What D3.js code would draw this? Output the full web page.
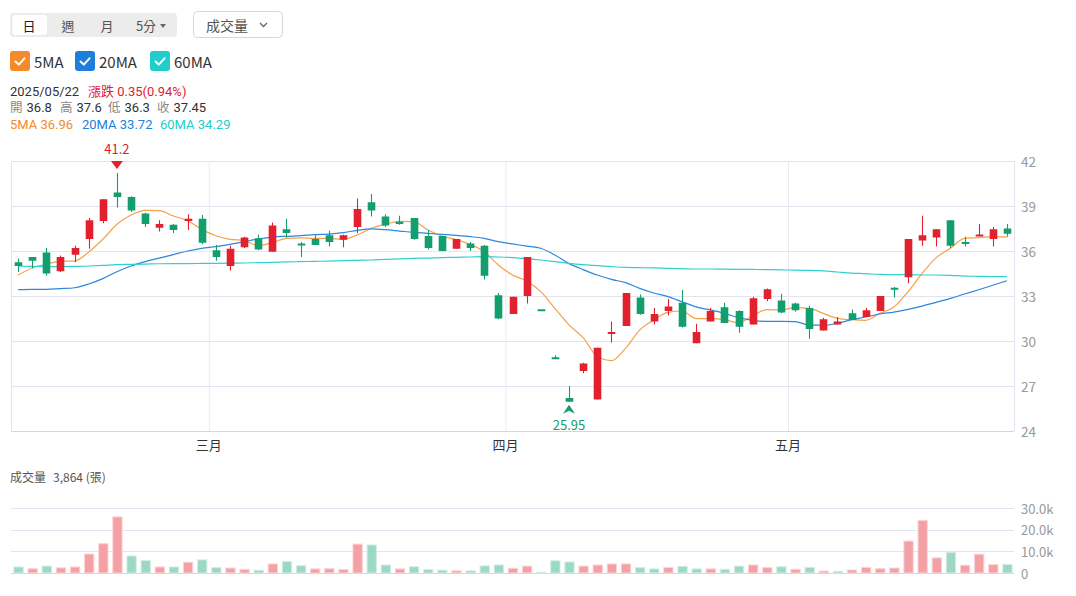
<!DOCTYPE html>
<html>
<head>
<meta charset="utf-8">
<script src="https://cdn.jsdelivr.net/npm/d3@7"></script>
<style>
  body { margin: 0; background: #fff; }
  svg { display: block; font-family: "Noto Sans CJK TC", "Noto Sans", sans-serif; }
  .info { font-family: Roboto, "Noto Sans CJK TC", sans-serif; }
</style>
</head>
<body>
<div id="chart"></div>
<script>
(function() {
  'use strict';

  // trading days shown
  const dates = [
    '02/10','02/11','02/12','02/13','02/14','02/17','02/18','02/19','02/20','02/21','02/24','02/25','02/26','02/27',
    '03/03','03/04','03/05','03/06','03/07','03/10','03/11','03/12','03/13','03/14','03/17','03/18','03/19','03/20','03/21',
    '03/24','03/25','03/26','03/27','03/28','03/31',
    '04/01','04/02','04/07','04/08','04/09','04/10','04/11','04/14','04/15','04/16','04/17','04/18','04/21','04/22','04/23',
    '04/24','04/25','04/28','04/29','04/30',
    '05/02','05/05','05/06','05/07','05/08','05/09','05/12','05/13','05/14','05/15','05/16','05/19','05/20','05/21','05/22','05/23'
  ];

  const openP  = [35.25,35.6,35.9,34.65,35.75,36.8,38.0,39.9,39.6,38.5,37.55,37.75,38.0,38.15,36.05,35.0,36.25,36.85,35.95,37.45,
                  36.5,36.8,37.05,36.75,37.6,39.25,38.3,37.95,38.2,37.0,37.0,36.15,36.5,36.35,33.05,31.8,33.0,32.05,28.85,26.2,
                  28.0,26.1,30.5,31.0,32.9,31.3,32.0,32.55,29.85,31.3,32.25,32.0,31.1,32.8,32.7,32.5,32.2,30.7,31.1,31.85,
                  31.6,32.0,33.55,34.25,36.7,36.9,38.05,36.6,37.0,36.8,37.5];
  const highP  = [35.5,35.6,36.2,35.7,36.35,38.2,39.45,41.2,39.65,38.55,38.05,37.8,38.45,38.4,36.4,36.35,36.95,37.1,37.9,38.15,
                  36.6,37.05,37.35,37.1,39.5,39.8,38.45,38.35,38.2,37.4,37.0,36.8,36.6,36.4,33.2,32.95,35.6,32.05,29.05,27.0,
                  28.55,29.55,31.3,33.2,33.1,32.2,32.8,33.4,31.15,32.2,32.55,32.05,32.95,33.5,33.15,32.55,32.35,31.55,31.6,32.1,
                  32.2,33.0,33.6,36.8,38.35,37.45,38.05,36.95,37.8,37.6,37.8];
  const lowP   = [34.6,34.85,34.35,34.6,35.25,36.15,37.85,38.9,38.6,37.6,37.3,37.2,37.4,36.45,35.35,34.7,36.2,36.05,35.95,36.9,
                  35.6,36.4,36.3,36.25,37.2,38.3,37.6,37.75,36.75,36.1,36.0,36.15,36.0,34.1,31.45,31.8,32.5,32.05,28.85,25.95,
                  27.85,26.1,29.9,31.0,31.75,31.1,31.7,30.9,29.85,31.3,31.2,30.55,31.1,32.65,31.85,31.95,30.15,30.7,31.1,31.4,
                  31.6,32.0,32.9,33.85,36.35,36.3,36.2,36.3,37.0,36.3,36.95];
  const closeP = [35.0,35.35,34.5,35.6,36.2,38.05,39.45,39.6,38.7,37.8,37.8,37.4,38.15,36.55,35.6,36.15,36.9,36.1,37.7,37.2,
                  36.45,36.4,36.6,37.05,38.8,38.7,37.7,37.8,36.8,36.2,36.0,36.8,36.2,34.35,31.5,32.95,35.6,32.05,28.85,25.95,
                  28.5,29.55,30.6,33.2,31.8,31.8,32.3,30.95,30.6,32.0,31.2,30.95,32.85,33.45,31.9,32.05,30.8,31.45,31.3,31.4,
                  32.05,33.0,33.45,36.8,37.05,37.45,36.35,36.5,37.1,37.45,37.15];

  const ma5  = [34.4,34.87,35.13,35.31,35.33,35.93,36.78,37.78,38.4,38.71,38.69,38.33,38.02,37.44,37.02,36.78,36.71,36.35,36.56,36.84,
                36.87,36.84,36.84,36.78,37.07,37.51,37.78,37.98,37.96,37.4,37.0,36.76,36.44,35.96,35.07,34.4,34.0,33.29,32.18,31.07,
                30.22,28.96,28.69,29.51,30.73,31.4,31.91,32.0,31.49,31.49,31.42,31.22,31.69,32.09,32.07,32.22,32.18,31.84,31.51,31.42,
                31.38,31.84,32.27,33.29,34.51,35.56,36.18,36.84,36.89,36.96,36.93];
  const ma20 = [33.42,33.44,33.44,33.49,33.55,33.8,34.16,34.62,35.0,35.29,35.53,35.76,36.0,36.18,36.29,36.44,36.62,36.8,36.93,36.98,
                37.02,37.09,37.13,37.22,37.38,37.47,37.42,37.33,37.24,37.18,37.11,37.04,36.96,36.84,36.62,36.47,36.33,36.18,35.73,35.16,
                34.76,34.4,34.11,33.89,33.51,33.2,32.96,32.62,32.27,32.07,31.84,31.56,31.38,31.31,31.31,31.29,31.07,31.04,31.18,31.42,
                31.6,31.8,31.93,32.11,32.33,32.58,32.84,33.13,33.42,33.72,34.02];
  const ma60 = [35.0,34.97,34.96,34.96,34.97,35.0,35.04,35.09,35.11,35.13,35.15,35.16,35.16,35.17,35.18,35.19,35.2,35.22,35.24,35.27,
                35.29,35.31,35.33,35.36,35.38,35.4,35.44,35.47,35.51,35.53,35.56,35.58,35.6,35.62,35.6,35.56,35.49,35.4,35.29,35.18,
                35.09,35.02,34.96,34.91,34.89,34.87,34.84,34.82,34.8,34.8,34.79,34.78,34.77,34.76,34.74,34.73,34.71,34.67,34.6,34.53,
                34.49,34.44,34.42,34.42,34.4,34.4,34.38,34.33,34.31,34.29,34.29];

  // volume in 張, and its colour: 1 up (red), -1 down (green)
  const volume = [2800,2000,3200,2400,2800,8800,13600,26000,7900,5800,2800,2800,5000,6100,2500,2300,1700,1300,4200,5300,
                  3400,1900,2000,1600,13400,13000,3700,1900,2900,1600,1300,1000,1000,3300,3700,2200,3200,400,5700,5100,
                  3200,3700,4200,4200,2500,1900,2600,3100,1900,1900,1700,3200,3700,2500,2900,1700,2600,900,800,1400,
                  2600,2000,2300,14800,24400,7000,9600,3600,8700,3864,4000];
  const volDir = [-1,1,-1,1,1,1,1,1,-1,-1,1,-1,1,-1,-1,1,1,-1,1,-1,
                  -1,1,1,1,1,-1,-1,1,-1,-1,-1,1,-1,-1,-1,1,1,-1,-1,-1,
                  1,1,1,1,-1,-1,1,-1,-1,1,-1,-1,1,1,-1,1,-1,1,-1,1,
                  1,1,1,1,1,1,-1,1,1,1,-1];

  const priceTicks  = [24, 27, 30, 33, 36, 39, 42];
  const volTicks    = [0, 10000, 20000, 30000];
  const monthStarts = ['03/03', '04/01', '05/02'];
  const monthLabels = ['三月', '四月', '五月'];
  const periodTabs  = ['日', '週', '月', '5分'];
  const maNames     = ['5MA', '20MA', '60MA'];
  const maValues    = [ma5, ma20, ma60];

  const RED = '#e3202d', GREEN = '#129f6d',
        VRED = '#f4a1a6', VGREEN = '#9dd8c4',
        maColors  = ['#f5a04a', '#2d87dc', '#2fd0cf'],
        boxColors = ['#f38b2c', '#1c7fdb', '#20cdcb'],
        GRID = '#e2e5f0';

  const width = 1076, height = 596;

  const svg = d3.select('#chart').append('svg')
    .attr('width', width)
    .attr('height', height);

  const data = dates.map((d, i) => ({
    date: d, o: openP[i], h: highP[i], l: lowP[i], c: closeP[i],
    v: volume[i], vd: volDir[i], prev: i > 0 ? closeP[i - 1] : openP[i]
  }));

  const x = d3.scaleBand().domain(dates).range([11, 1014]);
  const cx = d => x(d) + x.bandwidth() / 2;
  const y = d3.scaleLinear().domain([24, 42]).range([431, 161]);
  const yv = d3.scaleLinear().domain([0, 30000]).range([573, 508.3]);

  // ---------- header controls ----------
  const head = svg.append('g');
  head.append('rect').attr('x', 10).attr('y', 13).attr('width', 167).attr('height', 24)
    .attr('rx', 4).attr('fill', '#ececec');
  head.append('rect').attr('x', 12.5).attr('y', 15).attr('width', 34.5).attr('height', 20)
    .attr('rx', 3).attr('fill', '#fff');
  const tabX = [29, 68, 107, 146];
  head.selectAll('text.tab').data(periodTabs).enter().append('text')
    .attr('class', 'tab')
    .attr('x', (d, i) => tabX[i]).attr('y', 25.5)
    .attr('text-anchor', 'middle').attr('dominant-baseline', 'central')
    .attr('font-size', 13).attr('fill', (d, i) => i === 0 ? '#222' : '#555')
    .text(d => d);
  head.append('path').attr('d', 'M160,24 L166,24 L163,28 Z').attr('fill', '#666');

  head.append('rect').attr('x', 193.5).attr('y', 11.5).attr('width', 89).attr('height', 26)
    .attr('rx', 4).attr('fill', '#fff').attr('stroke', '#d6d6d6');
  head.append('text').attr('x', 206).attr('y', 25).attr('dominant-baseline', 'central')
    .attr('font-size', 14).attr('fill', '#555').text('成交量');
  head.append('path').attr('d', 'M260,23 L263.5,26.5 L267,23').attr('fill', 'none')
    .attr('stroke', '#666').attr('stroke-width', 1.3);

  // legend checkboxes
  const legX = [10, 75, 150];
  const leg = svg.append('g').selectAll('g').data(maNames).enter().append('g')
    .attr('transform', (d, i) => `translate(${legX[i]},51)`);
  leg.append('rect').attr('width', 20).attr('height', 20).attr('rx', 3)
    .attr('fill', (d, i) => boxColors[i]);
  leg.append('path').attr('d', 'M5.5,10.5 L8.8,13.6 L14.5,7.3').attr('fill', 'none')
    .attr('stroke', '#fff').attr('stroke-width', 2).attr('stroke-linecap', 'round').attr('stroke-linejoin', 'round');
  leg.append('text').attr('x', 24).attr('y', 10.5).attr('dominant-baseline', 'central')
    .attr('font-size', 15).attr('fill', '#333').text(d => d);

  // info lines (last hovered day = 05/22)
  const hi = dates.indexOf('05/22'), day = data[hi];
  const chg = day.c - day.prev, pct = chg / day.prev * 100;
  const info = svg.append('g').attr('class', 'info').attr('font-size', 13);
  const t1 = info.append('text').attr('x', 10).attr('y', 95.5);
  t1.append('tspan').attr('fill', '#333').text('2025/' + day.date);
  t1.append('tspan').attr('x', 88).attr('fill', RED).text(`漲跌 ${chg.toFixed(2)}(${pct.toFixed(2)}%)`);

  const t2 = info.append('text').attr('y', 112);
  const ohlcX = [10, 60, 108, 157];
  [['開', day.o], ['高', day.h], ['低', day.l], ['收', day.c]].forEach((p, i) => {
    t2.append('tspan').attr('x', ohlcX[i]).attr('fill', '#888').attr('font-size', 12.5).text(p[0]);
    t2.append('tspan').attr('dx', 4).attr('fill', '#333').text(p[1]);
  });

  const t3 = info.append('text').attr('y', 128.5);
  const maTextX = [10, 82, 160];
  maNames.forEach((n, i) => {
    t3.append('tspan').attr('x', maTextX[i]).attr('fill', boxColors[i])
      .text(`${n} ${maValues[i][hi].toFixed(2)}`);
  });

  // ---------- price panel ----------
  const pg = svg.append('g');
  pg.selectAll('line.hg').data(priceTicks).enter().append('line')
    .attr('x1', 11).attr('x2', 1014)
    .attr('y1', d => y(d) + 0.5).attr('y2', d => y(d) + 0.5)
    .attr('stroke', d => d === 24 ? '#d3d7e3' : GRID);
  pg.selectAll('line.vg').data(monthStarts).enter().append('line')
    .attr('x1', d => x(d) + 0.5).attr('x2', d => x(d) + 0.5)
    .attr('y1', 161).attr('y2', 431).attr('stroke', '#e9ebf1');
  [11, 1014].forEach(xx => pg.append('line').attr('x1', xx + 0.5).attr('x2', xx + 0.5)
    .attr('y1', 161).attr('y2', 431).attr('stroke', GRID));

  pg.selectAll('text.yl').data(priceTicks).enter().append('text')
    .attr('x', 1021).attr('y', d => y(d)).attr('dominant-baseline', 'central')
    .attr('font-size', 13.5).attr('fill', '#999').text(d => d);
  pg.selectAll('text.xl').data(monthLabels).enter().append('text')
    .attr('x', (d, i) => x(monthStarts[i])).attr('y', 444)
    .attr('text-anchor', 'middle').attr('dominant-baseline', 'central')
    .attr('font-size', 13).attr('fill', '#333').text(d => d);

  // moving averages
  maValues.forEach((vals, k) => {
    const line = d3.line().x((d, i) => cx(dates[i])).y(d => y(d)).curve(d3.curveMonotoneX);
    pg.append('path').datum(vals).attr('d', line)
      .attr('fill', 'none').attr('stroke', maColors[k]).attr('stroke-width', 1.2);
  });

  // candles
  const bw = x.bandwidth() * 0.54;
  const up = d => d.c > d.o || (d.c === d.o && d.c >= d.prev);
  const cg = pg.selectAll('g.candle').data(data).enter().append('g').attr('class', 'candle');
  cg.append('line')
    .attr('x1', d => Math.round(cx(d.date)) + 0.5).attr('x2', d => Math.round(cx(d.date)) + 0.5)
    .attr('y1', d => y(d.h)).attr('y2', d => y(d.l))
    .attr('stroke', d => up(d) ? RED : GREEN).attr('stroke-width', 1.1);
  cg.append('rect')
    .attr('x', d => Math.round(cx(d.date)) + 0.5 - bw / 2)
    .attr('y', d => Math.min(y(d.o), y(d.c)) - (d.o === d.c ? 1 : 0))
    .attr('width', bw)
    .attr('height', d => Math.max(2, Math.abs(y(d.o) - y(d.c))))
    .attr('fill', d => up(d) ? RED : GREEN);

  // max / min markers
  const iMax = d3.maxIndex(highP), iMin = d3.minIndex(lowP);
  const mx = cx(dates[iMax]), mn = cx(dates[iMin]);
  pg.append('path')
    .attr('d', `M${mx - 6},${y(highP[iMax]) - 12} L${mx + 6},${y(highP[iMax]) - 12} L${mx},${y(highP[iMax]) - 4} Z`)
    .attr('fill', RED);
  pg.append('text').attr('x', mx).attr('y', y(highP[iMax]) - 25)
    .attr('text-anchor', 'middle').attr('dominant-baseline', 'central')
    .attr('font-size', 13).attr('fill', RED).text(highP[iMax]);
  pg.append('path')
    .attr('d', `M${mn},${y(lowP[iMin]) + 3} L${mn + 6},${y(lowP[iMin]) + 12} L${mn},${y(lowP[iMin]) + 9} L${mn - 6},${y(lowP[iMin]) + 12} Z`)
    .attr('fill', GREEN);
  pg.append('text').attr('x', mn).attr('y', y(lowP[iMin]) + 22.5)
    .attr('text-anchor', 'middle').attr('dominant-baseline', 'central')
    .attr('font-size', 13).attr('fill', GREEN).text(lowP[iMin].toFixed(2));

  // ---------- volume panel ----------
  const vg = svg.append('g');
  const vt = vg.append('text').attr('x', 10).attr('y', 482).attr('font-size', 12).attr('fill', '#555');
  vt.append('tspan').text('成交量');
  vt.append('tspan').attr('dx', 7).text(`${d3.format(',')(volume[hi])} (張)`);

  vg.selectAll('line.vgl').data(volTicks).enter().append('line')
    .attr('x1', 11).attr('x2', 1014)
    .attr('y1', d => Math.round(yv(d)) + 0.5).attr('y2', d => Math.round(yv(d)) + 0.5)
    .attr('stroke', d => d === 0 ? '#d3d7e3' : GRID);
  vg.selectAll('text.vl').data(volTicks).enter().append('text')
    .attr('x', 1021).attr('y', d => yv(d)).attr('dominant-baseline', 'central')
    .attr('font-size', 13).attr('fill', '#999')
    .text(d => d === 0 ? '0' : (d / 1000).toFixed(1) + 'k');

  const vbw = x.bandwidth() * 0.66;
  vg.selectAll('rect.vol').data(data).enter().append('rect')
    .attr('x', d => cx(d.date) - vbw / 2 + 0.5)
    .attr('y', d => yv(d.v))
    .attr('width', vbw)
    .attr('height', d => yv(0) - yv(d.v))
    .attr('fill', d => d.vd > 0 ? VRED : VGREEN)
    .attr('stroke', d => d.vd > 0 ? '#fbd3d6' : '#d2eee4')
    .attr('stroke-width', 1);

})();
</script>
</body>
</html>
